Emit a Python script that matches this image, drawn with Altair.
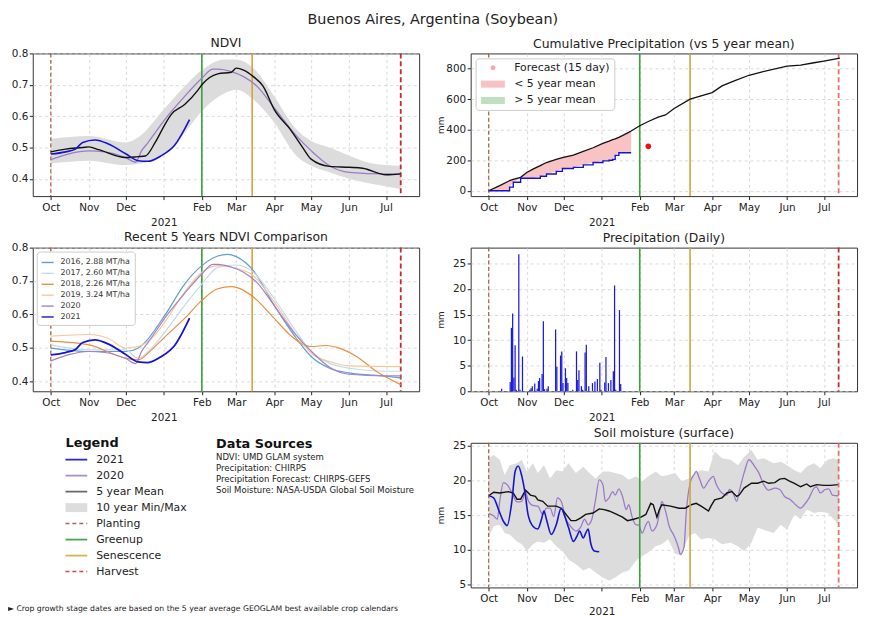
import altair as alt
import pandas as pd

TITLE = "Buenos Aires, Argentina (Soybean)"

# ---------------- x axis: days since 1 Oct 2020 ----------------
X_TICKS = [0, 31, 61, 92, 123, 151, 182, 212, 243, 273]
X_TICK_LABELS = ["Oct", "Nov", "Dec", ["", "2021"], "Feb", "Mar", "Apr", "May", "Jun", "Jul"]
X_DOMAIN = [-14.7, 300.0]

STAGE_NAMES = ["Planting", "Greenup", "Senescence", "Harvest"]
STAGE_DAYS = [0, 123, 164, 285]

# ---------------- NDVI ----------------
NDVI_BAND_DAY = [0, 31, 61, 71, 93, 109, 123, 141, 151, 165, 182, 200, 212, 227, 243, 262, 285]
NDVI_BAND_HI = [0.528, 0.537, 0.516, 0.532, 0.626, 0.695, 0.747, 0.781, 0.781, 0.753, 0.663, 0.558, 0.521, 0.500, 0.474, 0.449, 0.442]
NDVI_BAND_LO = [0.449, 0.458, 0.444, 0.447, 0.479, 0.547, 0.616, 0.672, 0.684, 0.653, 0.579, 0.474, 0.442, 0.421, 0.400, 0.384, 0.368]

NDVI_MEAN_DAY = [0, 12, 26, 31, 39, 61, 71, 77, 85, 93, 98, 109, 120, 123, 136, 147, 151, 157, 165, 173, 182, 195, 206, 212, 227, 243, 254, 273, 285]
NDVI_MEAN = [0.486, 0.495, 0.500, 0.502, 0.493, 0.468, 0.471, 0.473, 0.516, 0.574, 0.605, 0.637, 0.684, 0.700, 0.735, 0.740, 0.753, 0.747, 0.726, 0.695, 0.621, 0.558, 0.495, 0.463, 0.440, 0.437, 0.434, 0.413, 0.416]

NDVI_2020_DAY = [0, 31, 44, 61, 69, 74, 79, 93, 109, 123, 132, 136, 147, 157, 168, 182, 200, 212, 227, 243, 273, 285]
NDVI_2020 = [0.461, 0.489, 0.486, 0.468, 0.453, 0.490, 0.515, 0.590, 0.663, 0.721, 0.750, 0.750, 0.742, 0.726, 0.695, 0.626, 0.537, 0.490, 0.442, 0.421, 0.416, 0.416]

NDVI_2021_DAY = [0, 12, 20, 26, 36, 47, 61, 71, 79, 90, 101, 113]
NDVI_2021 = [0.479, 0.486, 0.495, 0.516, 0.524, 0.511, 0.480, 0.458, 0.456, 0.474, 0.508, 0.589]

# ---------------- Recent 5 years ----------------
REC_LABELS = ["2016, 2.88 MT/ha", "2017, 2.60 MT/ha", "2018, 2.26 MT/ha", "2019, 3.24 MT/ha", "2020", "2021"]
REC_COLORS = ["#5f9fcf", "#c3d9ef", "#e8913f", "#f6c896", "#a283ca", "#1414d0"]

REC_2016_DAY = [0, 31, 61, 71, 93, 109, 123, 136, 144, 151, 165, 182, 200, 212, 227, 243, 273, 285]
REC_2016 = [0.499, 0.489, 0.489, 0.499, 0.598, 0.691, 0.746, 0.775, 0.780, 0.773, 0.731, 0.627, 0.528, 0.474, 0.439, 0.425, 0.415, 0.410]
REC_2017_DAY = [0, 31, 61, 71, 82, 93, 109, 123, 136, 151, 165, 182, 200, 212, 227, 243, 273, 285]
REC_2017 = [0.509, 0.494, 0.494, 0.469, 0.499, 0.548, 0.627, 0.691, 0.741, 0.748, 0.726, 0.647, 0.548, 0.489, 0.454, 0.439, 0.430, 0.430]
REC_2018_DAY = [0, 31, 61, 71, 82, 93, 109, 123, 136, 147, 157, 165, 182, 195, 206, 212, 224, 235, 249, 265, 285]
REC_2018 = [0.520, 0.509, 0.469, 0.464, 0.494, 0.533, 0.588, 0.642, 0.677, 0.683, 0.672, 0.652, 0.588, 0.538, 0.509, 0.504, 0.507, 0.499, 0.474, 0.430, 0.390]
REC_2019_DAY = [0, 31, 47, 61, 71, 82, 93, 109, 123, 136, 151, 165, 182, 200, 212, 227, 243, 285]
REC_2019 = [0.535, 0.540, 0.528, 0.499, 0.504, 0.528, 0.578, 0.667, 0.726, 0.746, 0.738, 0.716, 0.637, 0.538, 0.484, 0.459, 0.446, 0.444]

# ---------------- Cumulative precipitation ----------------
CUM_DAY = [0, 9, 16, 17, 20, 26, 31, 36, 42, 47, 55, 60, 69, 77, 85, 93, 98, 101, 103, 106, 114, 116]
CUM_MEAN = [0, 34, 62, 67, 75, 88, 120, 142, 165, 185, 205, 217, 234, 258, 282, 310, 325, 335, 340, 350, 383, 392]
CUM_2021 = [0, 0, 0, 24, 56, 82, 82, 82, 95, 110, 127, 146, 153, 170, 185, 196, 200, 206, 232, 249, 249, 249]
CUM_MEAN_LATE_DAY = [123, 130, 138, 144, 151, 164, 173, 182, 190, 200, 212, 222, 243, 254, 265, 273, 286]
CUM_MEAN_LATE = [426, 454, 482, 497, 539, 600, 622, 643, 687, 720, 757, 778, 817, 824, 839, 850, 870]
FORECAST_DAY = [130]
FORECAST_MM = [291]
CUM_LEG_ITEMS = ["Forecast (15 day)", "< 5 year mean", "> 5 year mean"]
CUM_LEG_COLORS = ["#f7a9a9", "#f9c2c2", "#bfe0bf"]

# ---------------- Daily precipitation ----------------
PRECIP_DAY = [10, 17, 18, 19, 20, 21, 22, 24, 25, 27, 33, 34, 35, 37, 39, 40, 41, 43, 44, 45,
              47, 48, 54, 55, 58, 59, 60, 62, 63, 64, 68, 71, 72, 73, 75, 76, 78, 79, 81, 84,
              86, 88, 90, 91, 94, 95, 97, 99, 101, 102, 103, 106, 107]
PRECIP_MM = [0.5, 1.8, 12.4, 15.2, 2.7, 9.0, 0.3, 26.8, 0.3, 6.8, 0.3, 0.6, 1.0, 1.5, 0.5, 2.0, 2.6, 3.4, 13.7, 0.4,
             0.5, 1.0, 12.1, 4.8, 7.0, 7.8, 1.6, 4.5, 2.6, 1.6, 0.3, 7.8, 2.2, 4.1, 1.0, 0.3, 7.6, 9.1, 1.0, 1.6,
             1.9, 2.4, 5.6, 0.3, 1.7, 6.7, 1.6, 2.2, 3.9, 20.7, 0.3, 15.9, 1.4]

# ---------------- Soil moisture ----------------
SOIL_BAND_DAY = [0, 4, 9, 13, 17, 23, 27, 31, 36, 40, 45, 50, 55, 60, 65, 71, 77, 82, 87, 93,
                 98, 103, 109, 114, 120, 125, 130, 136, 141, 146, 152, 157, 163, 168, 173, 179, 184, 190, 197, 203,
                 208, 214, 219, 224, 232, 238, 243, 249, 254, 259, 265, 270, 276, 281, 285]
SOIL_BAND_HI = [23.2, 23.7, 23.0, 20.8, 22.2, 22.5, 23.0, 21.3, 22.5, 21.1, 22.2, 20.3, 21.5, 21.3, 22.5, 21.1, 22.0, 21.1, 20.3, 21.3,
                21.3, 21.1, 20.8, 20.1, 20.6, 19.9, 20.6, 21.3, 20.6, 20.8, 21.1, 19.9, 20.3, 21.1, 21.5, 21.3, 24.2, 23.2, 23.0, 22.2,
                23.4, 24.4, 23.0, 23.2, 22.5, 22.7, 22.2, 21.5, 21.1, 22.0, 22.5, 21.8, 23.0, 23.2, 23.0]
SOIL_BAND_LO = [11.8, 13.4, 13.6, 12.4, 12.2, 11.2, 10.8, 9.8, 10.8, 11.2, 11.0, 11.5, 10.5, 9.8, 8.6, 7.9, 7.0, 7.4, 6.7, 6.0,
                5.5, 6.0, 6.7, 7.0, 8.4, 9.1, 9.6, 10.5, 10.8, 11.5, 9.4, 9.2, 12.0, 12.4, 11.5, 11.7, 11.5, 10.8, 11.0, 10.5,
                9.8, 11.0, 13.2, 12.9, 12.4, 13.6, 12.9, 15.1, 14.4, 15.8, 15.3, 15.5, 15.3, 14.4, 13.6]

SOIL_MEAN_DAY = [0, 4, 9, 16, 20, 23, 26, 30, 34, 38, 40, 44, 48, 55, 59, 63, 67, 71, 75, 79,
                 85, 90, 94, 98, 103, 109, 113, 118, 124, 128, 132, 134, 137, 139, 141, 148, 155, 160, 165, 169,
                 173, 179, 181, 184, 190, 194, 198, 202, 204, 208, 214, 219, 224, 228, 233, 237, 241, 245, 249, 254,
                 259, 262, 267, 273, 278, 285]
SOIL_MEAN = [17.8, 18.3, 18.2, 18.4, 18.2, 17.3, 17.3, 18.6, 17.9, 17.7, 17.2, 17.0, 16.3, 16.3, 16.0, 15.1, 14.2, 14.2, 14.6, 15.1,
             15.3, 15.9, 15.8, 15.6, 15.2, 14.7, 14.2, 14.4, 14.7, 15.1, 16.7, 16.5, 14.7, 15.8, 16.5, 16.3, 16.0, 16.0, 16.5, 16.7,
             16.3, 15.6, 16.3, 17.2, 17.5, 18.2, 18.4, 17.7, 17.9, 18.9, 19.6, 19.6, 19.9, 19.6, 19.7, 20.2, 20.3, 19.9, 19.6, 19.1,
             19.5, 19.1, 19.4, 19.3, 19.3, 19.4]

SOIL_2020_DAY = [0, 4, 7, 9, 12, 15, 19, 23, 27, 30, 32, 36, 40, 44, 47, 50, 53, 56, 59, 63,
                 67, 71, 75, 78, 81, 84, 87, 90, 93, 95, 98, 101, 103, 106, 109, 112, 114, 117, 120, 122,
                 125, 128, 130, 133, 137, 140, 141, 144, 147, 151, 155, 156, 159, 161, 164, 167, 169, 172, 175, 179,
                 183, 185, 190, 194, 196, 199, 202, 204, 208, 212, 216, 220, 224, 228, 233, 237, 241, 246, 250, 254,
                 257, 261, 265, 267, 270, 274, 277, 280, 285]
SOIL_2020 = [15.2, 14.9, 14.4, 17.0, 19.7, 19.4, 18.2, 16.9, 17.0, 18.4, 17.2, 16.4, 16.3, 15.1, 16.0, 16.0, 14.8, 17.5, 17.0, 14.4,
             13.3, 12.7, 13.3, 14.4, 13.6, 14.4, 17.2, 20.1, 19.4, 17.0, 17.5, 18.4, 17.9, 18.8, 17.7, 15.8, 16.5, 14.6, 13.6, 13.6,
             12.4, 13.6, 14.1, 12.7, 13.6, 16.3, 17.0, 15.6, 13.4, 12.0, 10.0, 9.3, 10.3, 15.6, 19.6, 20.8, 21.3, 20.1, 18.9, 19.9,
             20.6, 19.6, 18.2, 17.9, 18.7, 18.2, 17.0, 18.4, 21.1, 23.0, 22.2, 21.1, 19.4, 18.6, 18.9, 18.7, 17.7, 17.2, 16.5, 16.0,
             16.5, 17.5, 18.9, 19.1, 18.2, 18.7, 18.8, 17.9, 17.8]

SOIL_2021_DAY = [0, 4, 8, 12, 15, 19, 21.5, 24, 27, 30, 32, 36, 40, 43, 45, 47, 51, 55, 59, 62,
                 65, 69, 72, 74, 77, 79, 81, 83, 86, 90]
SOIL_2021 = [17.8, 17.5, 15.8, 14.1, 13.5, 17.2, 21.3, 22.1, 20.6, 17.7, 15.1, 13.4, 13.0, 14.4, 15.6, 14.4, 12.2, 13.6, 16.0, 14.8,
             13.2, 11.2, 12.0, 12.7, 11.7, 12.4, 13.0, 11.0, 9.8, 9.7]

# ---------------- Legend / text ----------------
LEG_LABELS = ["2021", "2020", "5 year Mean", "10 year Min/Max", "Planting", "Greenup", "Senescence", "Harvest"]
LEG_COLORS = ["#2a2ac8", "#a88fd2", "#6a6a6a", "#dddddd", "#a3675c", "#4ea34e", "#dab252", "#d04a4a"]
LEG_KIND = ["line", "line", "line", "band", "dash", "line", "line", "dash"]
SOURCES = ["NDVI: UMD GLAM system", "Precipitation: CHIRPS", "Precipitation Forecast: CHIRPS-GEFS",
           "Soil Moisture: NASA-USDA Global Soil Moisture"]
FOOTNOTE = "\u25ba Crop growth stage dates are based on the 5 year average GEOGLAM best available crop calendars"

# ================= styling =================
W = 390
H1, H2, H3 = 144, 145, 146
INK = "#222222"
GRID = "#cfcfcf"
C2021 = "#1414d0"
C2020 = "#9c7ac8"
CMEAN = "#111111"
CBAND = "#dcdcdc"
STAGE_STYLE = {
    "Planting": dict(color="#a0522d", strokeDash=[4, 2.5], strokeWidth=1.1),
    "Greenup": dict(color="#3c9e3c", strokeWidth=1.6),
    "Senescence": dict(color="#d4a33a", strokeWidth=1.6),
    "Harvest": dict(color="#c62828", strokeDash=[5, 3], strokeWidth=1.8),
}


def js(v):
    if isinstance(v, list):
        return "[" + ",".join(js(s) for s in v) + "]"
    return "'" + str(v) + "'"


LABEL_EXPR = js(X_TICK_LABELS) + "[indexof(" + str(X_TICKS) + ", datum.value)]"


def x_axis(line_height=15):
    return alt.Axis(values=X_TICKS, labelExpr=LABEL_EXPR, title=None, grid=True, gridDash=[3, 3],
                    gridColor=GRID, gridWidth=0.8, domain=False, tickColor=INK, tickSize=3.5,
                    labelFontSize=10.5, labelColor=INK, labelPadding=3, labelLineHeight=line_height,
                    labelOverlap=False, labelFlush=False, labelBound=False)


X_AXIS = x_axis()
X_AXIS_SOIL = x_axis(12.5)


def X(field="day", axis=X_AXIS):
    return alt.X(f"{field}:Q", scale=alt.Scale(domain=X_DOMAIN, nice=False, zero=False), axis=axis)


def y_axis(values, fmt, title=""):
    kw = dict(values=values, format=fmt, grid=True, gridDash=[3, 3], gridColor=GRID, gridWidth=0.8,
              domain=False, tickColor=INK, tickSize=3.5, labelFontSize=10.5, labelColor=INK, labelPadding=1.5)
    if title:
        kw.update(title=title, titleFontSize=9, titleFontWeight="normal", titleColor=INK, titlePadding=0,
                  minExtent=25, maxExtent=25)
    else:
        kw.update(title=None, minExtent=22, maxExtent=22)
    return alt.Axis(**kw)


def sub_title(text, offset):
    return alt.TitleParams(text=text, fontSize=12.5, fontWeight="normal", color=INK, offset=offset, anchor="middle")


def stages(harvest_color, axis=X_AXIS):
    df = pd.DataFrame({"stage": STAGE_NAMES, "day": STAGE_DAYS})
    out = []
    for name in STAGE_NAMES:
        st = dict(STAGE_STYLE[name])
        if name == "Harvest":
            st["color"] = harvest_color
        out.append(alt.Chart(df).transform_filter(alt.datum.stage == name).mark_rule(**st)
                   .encode(x=X(axis=axis)))
    return out


def series(days, vals):
    return pd.DataFrame({"day": days, "v": vals})


# ---------------- NDVI panel ----------------
ndvi_axis = y_axis([0.4, 0.5, 0.6, 0.7, 0.8], ".1f")


def YN(f):
    return alt.Y(f"{f}:Q", scale=alt.Scale(domain=[0.345, 0.80], nice=False, zero=False), axis=ndvi_axis)


ndvi = alt.layer(
    alt.Chart(pd.DataFrame({"day": NDVI_BAND_DAY, "hi": NDVI_BAND_HI, "lo": NDVI_BAND_LO}))
    .mark_area(color=CBAND, interpolate="monotone").encode(x=X(), y=YN("hi"), y2=alt.Y2("lo")),
    *stages("#c62828"),
    alt.Chart(series(NDVI_2020_DAY, NDVI_2020)).mark_line(color=C2020, strokeWidth=1.3, interpolate="monotone")
    .encode(x=X(), y=YN("v")),
    alt.Chart(series(NDVI_MEAN_DAY, NDVI_MEAN)).mark_line(color=CMEAN, strokeWidth=1.4, interpolate="monotone")
    .encode(x=X(), y=YN("v")),
    alt.Chart(series(NDVI_2021_DAY, NDVI_2021)).mark_line(color=C2021, strokeWidth=1.6, interpolate="monotone")
    .encode(x=X(), y=YN("v")),
).properties(width=W, height=H1, title=sub_title("NDVI", -1))

# ---------------- Recent 5 years panel ----------------
rec_rows = []
for lab, d, v in [(REC_LABELS[0], REC_2016_DAY, REC_2016), (REC_LABELS[1], REC_2017_DAY, REC_2017),
                  (REC_LABELS[2], REC_2018_DAY, REC_2018), (REC_LABELS[3], REC_2019_DAY, REC_2019),
                  (REC_LABELS[4], NDVI_2020_DAY, NDVI_2020)]:
    rec_rows.append(pd.DataFrame({"day": d, "v": v, "series": lab}))
rec_df = pd.concat(rec_rows, ignore_index=True)
rec_2021 = pd.DataFrame({"day": NDVI_2021_DAY, "v": NDVI_2021, "series": REC_LABELS[5]})

rec_axis = y_axis([0.4, 0.5, 0.6, 0.7, 0.8], ".1f")


def YR(f):
    return alt.Y(f"{f}:Q", scale=alt.Scale(domain=[0.37, 0.80], nice=False, zero=False), axis=rec_axis)


rec_legend = alt.Legend(title=None, orient="top-left", offset=4, fillColor="white", strokeColor="#cccccc",
                        cornerRadius=3, padding=4, labelFontSize=8, labelColor="#333333", symbolType="stroke",
                        symbolSize=150, symbolStrokeWidth=1.4, rowPadding=0, labelOffset=6)
rec_color = alt.Color("series:N", scale=alt.Scale(domain=REC_LABELS, range=REC_COLORS), legend=rec_legend)

recent = alt.layer(
    *stages("#c62828"),
    alt.Chart(rec_df).mark_line(strokeWidth=1.2, interpolate="monotone").encode(x=X(), y=YR("v"), color=rec_color),
    alt.Chart(rec_2021).mark_line(strokeWidth=1.8, interpolate="monotone").encode(x=X(), y=YR("v"), color=rec_color),
).properties(width=W, height=H2, title=sub_title("Recent 5 Years NDVI Comparison", -1))

# ---------------- Cumulative precipitation panel ----------------
cum_axis = y_axis([0, 200, 400, 600, 800], "d", "mm")


def YC(f):
    return alt.Y(f"{f}:Q", scale=alt.Scale(domain=[-35, 900], nice=False, zero=False), axis=cum_axis)


cum_df = pd.DataFrame({"day": CUM_DAY, "mean": CUM_MEAN, "y2021": CUM_2021})
cum_mean_df = pd.concat([series(CUM_DAY, CUM_MEAN), series(CUM_MEAN_LATE_DAY, CUM_MEAN_LATE)], ignore_index=True)
cum_legend = alt.Legend(title=None, orient="top-left", offset=5, fillColor="white", strokeColor="#cccccc",
                        cornerRadius=3, padding=4, labelFontSize=11, labelColor=INK, symbolSize=120,
                        symbolOpacity=1, symbolStrokeWidth=0, rowPadding=4.5, labelOffset=16, symbolOffset=8)
RECT = "M-2.2,-0.65H2.2V0.65H-2.2Z"
CIRC = "M0,-0.45A0.45,0.45,0,1,1,0,0.45A0.45,0.45,0,1,1,0,-0.45Z"

cum = alt.layer(
    *stages("#e46e6e"),
    alt.Chart(cum_df).mark_area(color="#f8bcbc", opacity=0.9).encode(x=X(), y=YC("mean"), y2=alt.Y2("y2021")),
    alt.Chart(cum_mean_df).mark_line(color=CMEAN, strokeWidth=1.3).encode(x=X(), y=YC("v")),
    alt.Chart(cum_df).mark_line(color=C2021, strokeWidth=1.4, interpolate="step-after").encode(x=X(), y=YC("y2021")),
    alt.Chart(series(FORECAST_DAY, FORECAST_MM)).mark_circle(color="#ee1111", size=32, opacity=1)
    .encode(x=X(), y=YC("v")),
    alt.Chart(pd.DataFrame({"item": CUM_LEG_ITEMS})).mark_point(filled=True, opacity=0).encode(
        color=alt.Color("item:N", scale=alt.Scale(domain=CUM_LEG_ITEMS, range=CUM_LEG_COLORS), legend=cum_legend),
        shape=alt.Shape("item:N", scale=alt.Scale(domain=CUM_LEG_ITEMS, range=[CIRC, RECT, RECT]), legend=cum_legend),
    ),
).properties(width=W, height=H1, title=sub_title("Cumulative Precipitation (vs 5 year mean)", 2))

# ---------------- Daily precipitation panel ----------------
daily_axis = y_axis([0, 5, 10, 15, 20, 25], "d", "mm")
daily = alt.layer(
    alt.Chart(series(PRECIP_DAY, PRECIP_MM)).transform_calculate(day2="datum.day + 1")
    .mark_bar(color="#0c0ce0", opacity=0.95)
    .encode(x=X(), x2=alt.X2("day2"),
            y=alt.Y("v:Q", scale=alt.Scale(domain=[0, 28.1], nice=False, zero=True), axis=daily_axis),
            y2=alt.datum(0)),
    *stages("#c62828"),
).properties(width=W, height=H2, title=sub_title("Precipitation (Daily)", 2))

# ---------------- Soil moisture panel ----------------
soil_axis = y_axis([5, 10, 15, 20, 25], "d", "mm")


def YS(f):
    return alt.Y(f"{f}:Q", scale=alt.Scale(domain=[4.55, 25.45], nice=False, zero=False), axis=soil_axis)


def XS():
    return X(axis=X_AXIS_SOIL)


soil = alt.layer(
    alt.Chart(pd.DataFrame({"day": SOIL_BAND_DAY, "hi": SOIL_BAND_HI, "lo": SOIL_BAND_LO}))
    .mark_area(color=CBAND).encode(x=XS(), y=YS("hi"), y2=alt.Y2("lo")),
    alt.Chart(series(SOIL_2020_DAY, SOIL_2020)).mark_line(color=C2020, strokeWidth=1.3, interpolate="monotone")
    .encode(x=XS(), y=YS("v")),
    alt.Chart(series(SOIL_MEAN_DAY, SOIL_MEAN)).mark_line(color=CMEAN, strokeWidth=1.4)
    .encode(x=XS(), y=YS("v")),
    alt.Chart(series(SOIL_2021_DAY, SOIL_2021)).mark_line(color=C2021, strokeWidth=1.6, interpolate="monotone")
    .encode(x=XS(), y=YS("v")),
    *stages("#e46e6e", X_AXIS_SOIL),
).properties(width=W, height=H3, title=sub_title("Soil moisture (surface)", 1))

# ---------------- Legend / sources cell ----------------
leg_df = pd.DataFrame({"label": LEG_LABELS, "color": LEG_COLORS, "kind": LEG_KIND})
LY = alt.Y("label:N", scale=alt.Scale(type="point", domain=LEG_LABELS, range=[17, 130], padding=0), axis=None)
leg_base = alt.Chart(leg_df)
src_df = pd.DataFrame({"line": SOURCES})
SY = alt.Y("line:N", scale=alt.Scale(type="point", domain=SOURCES, range=[14, 48], padding=0), axis=None)

legcell = alt.layer(
    alt.Chart(pd.DataFrame({"t": ["Legend"]})).mark_text(align="left", baseline="middle", fontSize=13,
                                                         fontWeight="bold", color="#111111")
    .encode(x=alt.value(33), y=alt.value(0), text="t:N"),
    leg_base.transform_filter(alt.datum.kind == "line").mark_rule(strokeWidth=1.8)
    .encode(x=alt.value(33), x2=alt.value(55), y=LY, color=alt.Color("color:N", scale=None)),
    leg_base.transform_filter(alt.datum.kind == "dash").mark_rule(strokeWidth=1.5, strokeDash=[4, 3])
    .encode(x=alt.value(33), x2=alt.value(55), y=LY, color=alt.Color("color:N", scale=None)),
    leg_base.transform_filter(alt.datum.kind == "band").mark_rule(strokeWidth=9)
    .encode(x=alt.value(33), x2=alt.value(55), y=LY, color=alt.Color("color:N", scale=None)),
    leg_base.mark_text(align="left", baseline="middle", fontSize=11, color=INK)
    .encode(x=alt.value(64), y=LY, text="label:N"),
    alt.Chart(pd.DataFrame({"t": ["Data Sources"]})).mark_text(align="left", baseline="middle", fontSize=13,
                                                               fontWeight="bold", color="#111111")
    .encode(x=alt.value(185), y=alt.value(1), text="t:N"),
    alt.Chart(src_df).mark_text(align="left", baseline="middle", fontSize=8.6, color=INK)
    .encode(x=alt.value(185), y=SY, text="line:N"),
    alt.Chart(pd.DataFrame({"t": [FOOTNOTE]})).mark_text(align="left", baseline="middle", fontSize=7.8, color=INK)
    .encode(x=alt.value(-25), y=alt.value(168), text="t:N"),
).resolve_scale(y="independent").properties(width=W, height=H3, view=alt.ViewBackground(strokeOpacity=0))

chart = alt.concat(
    ndvi, cum, recent, daily, legcell, soil,
    columns=2, spacing={"row": 52, "column": 52}, bounds="flush",
).resolve_scale(
    color="independent", shape="independent"
).properties(
    title=alt.TitleParams(text=TITLE, fontSize=14.5, fontWeight="normal", color=INK, anchor="middle", offset=9),
    padding={"left": 0, "top": 1, "right": 4, "bottom": 0},
).configure(font="DejaVu Sans").configure_view(stroke="#333333", strokeWidth=1)

chart.save("out.html", embed_options={"renderer": "svg", "actions": False})
